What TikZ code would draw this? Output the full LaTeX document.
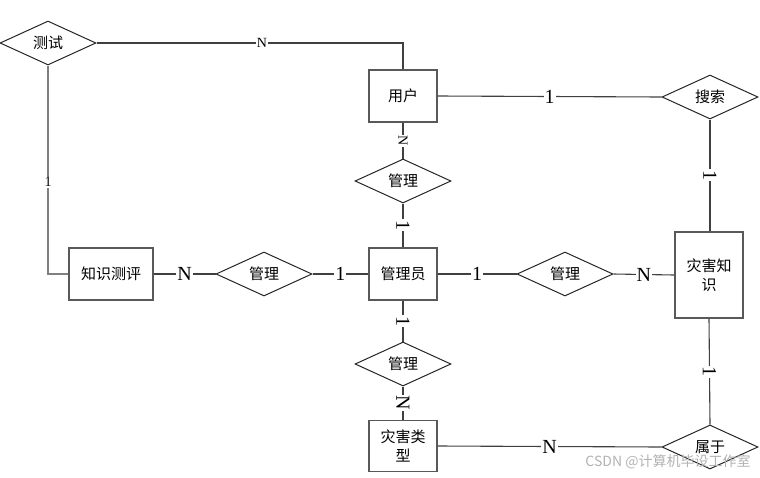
\documentclass[tikz,border=0pt]{standalone}
\usepackage{fontspec}
\setmainfont{Liberation Serif}
\newfontfamily\cjk{Noto Sans CJK SC}
\usetikzlibrary{shapes.geometric}
\tikzset{ent/.style={draw=black!65,line width=1.3pt,fill=white,minimum width=68pt,minimum height=52pt,inner sep=0pt,align=center,font=\cjk\fontsize{15}{19}\selectfont}}
\tikzset{rel/.style={draw=black!85,line width=1pt,fill=white,diamond,aspect=2.2,minimum width=96pt,minimum height=44pt,inner sep=0pt,font=\cjk\fontsize{15}{18}\selectfont}}
\tikzset{lbl/.style={fill=white,inner sep=1pt,font=\fontsize{20}{20}\selectfont}}
\tikzset{slbl/.style={fill=white,inner sep=1pt,font=\fontsize{14}{14}\selectfont}}
\tikzset{link/.style={draw=black!75,line width=1.1pt}}

\begin{document}
\begin{tikzpicture}[x=1pt,y=-1pt]
      \useasboundingbox (0,0) rectangle (760,477);
      % entities
      \node[ent] (yh) at (403,96) {用户};
      \node[ent] (gly) at (403,274) {管理员};
      \node[ent,minimum width=84pt] (zp) at (111,274) {知识测评};
      \node[ent,minimum height=86pt] (zs) at (709,275) {灾害知\\识};
      \node[ent,minimum height=51pt] (lx) at (403,446) {灾害类\\型};
      % relations
      \node[rel] (cs) at (48,43) {测试};
      \node[rel] (ss) at (710,97) {搜索};
      \node[rel] (gl1) at (403,181) {管理};
      \node[rel] (gl2) at (264,274) {管理};
      \node[rel] (gl3) at (565,274) {管理};
      \node[rel] (gl4) at (403,364) {管理};
      \node[rel] (sy) at (710,447) {属于};
      % links
      \draw[link] (cs.east) -| node[slbl,pos=0.27] {N} (yh.north);
      \draw[link,draw=black!50] (zp.west) -| node[slbl,pos=0.72] {1} (cs.south);
      \draw[link] (yh.east) -- node[lbl,pos=0.5] {1} (ss.west);
      \draw[link] (ss.south) -- node[lbl,rotate=-90] {1} (ss.south |- zs.north);
      \draw[link] (yh.south) -- node[slbl,rotate=-90] {N} (gl1.north);
      \draw[link] (gl1.south) -- node[lbl,rotate=-90] {1} (gly.north);
      \draw[link] (gly.west) -- node[lbl] {1} (gl2.east);
      \draw[link] (gl2.west) -- node[lbl] {N} (zp.east);
      \draw[link] (gly.east) -- node[lbl] {1} (gl3.west);
      \draw[link] (gl3.east) -- node[lbl] {N} (zs.west);
      \draw[link] (gly.south) -- node[lbl,rotate=-90] {1} (gl4.north);
      \draw[link] (gl4.south) -- node[lbl,rotate=-90] {N} (lx.north);
      \draw[link] (lx.east) -- node[lbl] {N} (sy.west);
      \draw[link] (zs.south) -- node[lbl,rotate=-90] {1} (sy.north);
      % watermark
      \node[text=black!30,font=\cjk\fontsize{14}{14}\selectfont] (wm) at (668,462) {CSDN @计算机毕设工作室};
    \end{tikzpicture}
\end{document}
